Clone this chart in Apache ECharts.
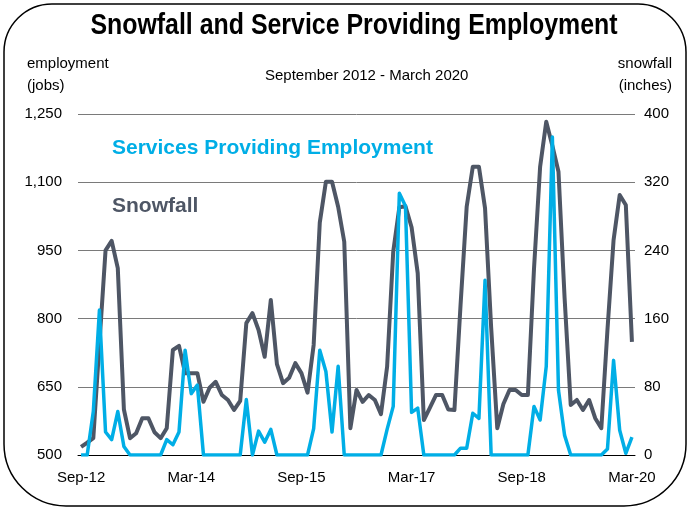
<!DOCTYPE html>
<html>
<head>
<meta charset="utf-8">
<script src="https://cdn.jsdelivr.net/npm/echarts@6/dist/echarts.min.js"></script>
<style>
  html, body { margin: 0; padding: 0; background: #ffffff; }
  #chart { width: 690px; height: 510px; }
</style>
</head>
<body>
<div id="chart"></div>
<script>
// Monthly categories, September 2012 through March 2020
const monthNames = ['Jan','Feb','Mar','Apr','May','Jun','Jul','Aug','Sep','Oct','Nov','Dec'];
const months = [];
for (let y = 2012; y <= 2020; y++) {
  for (let m = 0; m < 12; m++) {
    if (y === 2012 && m < 8) continue;
    if (y === 2020 && m > 2) break;
    months.push(monthNames[m] + '-' + String(y).slice(2));
  }
}

// Dark line, left axis (jobs)
const employmentJobs = [
  518, 527, 537, 745, 950, 971, 911, 600, 537, 548, 581, 581,
  550, 537, 559, 731, 740, 680, 680, 680, 617, 648, 661, 632,
  621, 599, 619, 790, 812, 775, 716, 841, 700, 658, 670, 702,
  680, 637, 742, 1011, 1101, 1101, 1046, 969, 559, 643, 617, 632,
  621, 590, 694, 947, 1045, 1047, 1001, 900, 577, 604, 632, 632,
  600, 599, 830, 1046, 1134, 1134, 1043, 780, 559, 612, 643, 643,
  632, 632, 910, 1134, 1233, 1180, 1123, 845, 610, 621, 599, 621,
  581, 559, 775, 973, 1072, 1050, 749
];

// Light line, right axis (inches)
const snowfallInches = [
  0, 0, 51, 170, 27, 18, 51, 10, 0, 0, 0, 0,
  0, 0, 18, 12, 27, 123, 72, 82, 0, 0, 0, 0,
  0, 0, 0, 65, 0, 28, 15, 30, 0, 0, 0, 0,
  0, 0, 31, 123, 98, 27, 104, 0, 0, 0, 0, 0,
  0, 0, 30, 57, 307, 292, 50, 55, 0, 0, 0, 0,
  0, 0, 8, 8, 49, 43, 205, 0, 0, 0, 0, 0,
  0, 0, 57, 41, 104, 373, 76, 23, 0, 0, 0, 0,
  0, 0, 7, 111, 29, 2, 21
];

// Axis tick values
const leftTicks = { min: 500, max: 1250, step: 150 };
const rightTicks = { min: 0, max: 400, step: 80 };

// Captions printed beside the lines
const lightCaption = 'Services Providing Employment';
const darkCaption = 'Snowfall';

const DARK = '#4e5665';
const LIGHT = '#00aee6';
const FONT = "'Liberation Sans', Arial, sans-serif";

const chart = echarts.init(document.getElementById('chart'), null, { renderer: 'canvas' });

chart.setOption({
  backgroundColor: '#ffffff',
  animation: false,
  legend: [
    {
      data: [{ name: lightCaption, textStyle: { color: LIGHT } }],
      left: 101, top: 133, itemWidth: 0, itemHeight: 0, selectedMode: false,
      textStyle: { fontFamily: FONT, fontWeight: 'bold', fontSize: 21 }
    },
    {
      data: [{ name: darkCaption, textStyle: { color: DARK } }],
      left: 101, top: 191, itemWidth: 0, itemHeight: 0, selectedMode: false,
      textStyle: { fontFamily: FONT, fontWeight: 'bold', fontSize: 21 }
    }
  ],
  grid: { left: 78, right: 55, top: 114, bottom: 55, containLabel: false },
  xAxis: {
    type: 'category',
    data: months,
    boundaryGap: true,
    axisLine: { lineStyle: { color: '#000', width: 1 } },
    axisTick: { interval: 0, length: 5, lineStyle: { color: '#000' } },
    axisLabel: { interval: 17, margin: 15, fontFamily: FONT, fontSize: 15, color: '#000' },
    splitLine: { show: false }
  },
  yAxis: [
    {
      type: 'value',
      min: leftTicks.min, max: leftTicks.max, interval: leftTicks.step,
      axisLine: { show: false },
      axisTick: { show: false },
      axisLabel: {
        margin: 16, fontFamily: FONT, fontSize: 15, color: '#000',
        formatter: v => v.toLocaleString('en-US')
      },
      splitLine: { lineStyle: { color: '#7a7a7a', width: 1 } }
    },
    {
      type: 'value',
      min: rightTicks.min, max: rightTicks.max, interval: rightTicks.step,
      axisLine: { show: false },
      axisTick: { show: false },
      axisLabel: { margin: 9, fontFamily: FONT, fontSize: 15, color: '#000' },
      splitLine: { show: false }
    }
  ],
  series: [
    {
      name: darkCaption,
      type: 'line',
      yAxisIndex: 0,
      data: employmentJobs,
      symbol: 'none',
      lineStyle: { color: DARK, width: 4, join: 'round' },
      itemStyle: { color: DARK },
      z: 2
    },
    {
      name: lightCaption,
      type: 'line',
      yAxisIndex: 1,
      data: snowfallInches,
      symbol: 'none',
      lineStyle: { color: LIGHT, width: 3.5, join: 'round' },
      itemStyle: { color: LIGHT },
      z: 3
    }
  ],
  graphic: [
    {
      type: 'rect',
      silent: true,
      shape: { x: 4, y: 4, width: 682, height: 502, r: [48, 48, 62, 62] },
      style: { fill: 'none', stroke: '#000', lineWidth: 1.5 },
      z: -1
    },
    {
      type: 'text', x: 354, y: 11, scaleX: 0.83,
      style: {
        text: 'Snowfall and Service Providing Employment',
        font: 'bold 30px ' + FONT, fill: '#000', textAlign: 'center', textVerticalAlign: 'top'
      }
    },
    { type: 'text', left: 27, top: 56, style: { text: 'employment', font: '15px ' + FONT, fill: '#000' } },
    { type: 'text', left: 27, top: 78, style: { text: '(jobs)', font: '15px ' + FONT, fill: '#000' } },
    { type: 'text', right: 18, top: 56, style: { text: 'snowfall', font: '15px ' + FONT, fill: '#000' } },
    { type: 'text', right: 18, top: 78, style: { text: '(inches)', font: '15px ' + FONT, fill: '#000' } },
    { type: 'text', left: 265, top: 68, style: { text: 'September 2012 - March 2020', font: '15px ' + FONT, fill: '#000' } }
  ]
});
</script>
</body>
</html>
